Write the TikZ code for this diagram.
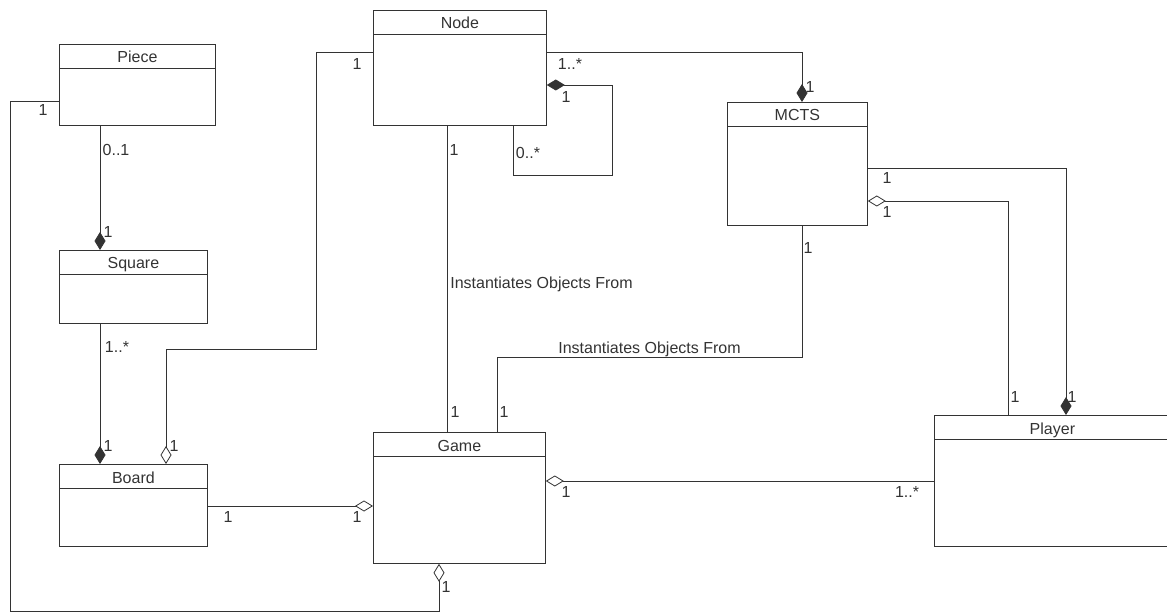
\documentclass[tikz,border=0pt]{standalone}
\usepackage{fontspec}
\setmainfont{Liberation Sans}
\usetikzlibrary{arrows.meta}

\begin{document}
\begin{tikzpicture}[x=1pt,y=-1pt,line width=0.8pt,color=black!80,
  umlbox/.style={draw,anchor=north west,inner sep=0pt},
  umltitle/.style={font=\fontsize{16}{18}\selectfont,anchor=base,inner sep=0pt},
  mult/.style={font=\fontsize{16}{18}\selectfont,inner sep=0pt},
  umlcomp/.style={-{Diamond[length=18pt,width=11pt]}},
  umlcompback/.style={{Diamond[length=18pt,width=11pt]}-},
  umlagg/.style={-{Diamond[open,length=18pt,width=11pt]}},
  umlaggback/.style={{Diamond[open,length=18pt,width=11pt]}-}]
\useasboundingbox (0,0) rectangle (1167,612);

% classes
\foreach \n/\t/\x/\y/\w/\h in {piece/Piece/59/44/156/81, square/Square/59/250/148/73,
    board/Board/59/464/148/82, node/Node/373/10/173/115, mcts/MCTS/727/102/140/123,
    game/Game/373/432/172/131, player/Player/934/415/236/131}
{
  \node[umlbox,minimum width=\w pt,minimum height=\h pt] (\n) at (\x,\y) {};
  \node[umltitle] (\n-title) at ([yshift=-19pt]\n.north) {\t};
  \draw ([yshift=-24pt]\n.north west) -- ([yshift=-24pt]\n.north east);
}

% connectors
\draw[umlagg] ([yshift=-16.5pt]piece.west) -| (10,611) -| ([xshift=66pt]game.south west);
\draw[umlcomp] ([xshift=41pt]piece.south west) -- ([xshift=41pt]square.north west);
\draw[umlcomp] ([xshift=41pt]square.south west) -- ([xshift=41pt]board.north west);
\draw[umlaggback] ([xshift=107pt]board.north west) |- (316,349) |- ([yshift=-42pt]node.north west);
\draw ([xshift=74pt]node.south west) -- node[pos=0.53,anchor=base west,xshift=3pt,inner sep=0pt,font=\fontsize{16}{18}\selectfont] (inst1) {Instantiates Objects From} ([xshift=74pt]game.north west);
\draw ([xshift=124pt]game.north west) |- node[pos=0.75,anchor=base,yshift=3.5pt,inner sep=0pt,font=\fontsize{16}{18}\selectfont] (inst2) {Instantiates Objects From} (802,357) -- ([xshift=75pt]mcts.south west);
\draw[umlcomp] ([yshift=-42pt]node.north east) -| ([xshift=75pt]mcts.north west);
\draw[umlcompback] ([yshift=-75pt]node.north east) -| (612,175) -| ([xshift=140pt]node.south west);
\draw[umlcomp] ([yshift=-66pt]mcts.north east) -| ([xshift=132pt]player.north west);
\draw[umlaggback] ([yshift=-99pt]mcts.north east) -| ([xshift=74pt]player.north west);
\draw[umlaggback] ([yshift=-49pt]game.north east) -- ([yshift=-66pt]player.north west);
\draw[umlagg] ([yshift=-42pt]board.north east) -- ([yshift=-74pt]game.north west);

% multiplicities
\node[mult] (m1) at (43,110) {1};
\node[mult] (m2) at (116,150) {0..1};
\node[mult] (m3) at (108,232) {1};
\node[mult] (m4) at (117,347) {1..*};
\node[mult] (m5) at (108,446) {1};
\node[mult] (m6) at (174,446) {1};
\node[mult] (m7) at (357,64) {1};
\node[mult] (m8) at (570,64) {1..*};
\node[mult] (m9) at (566,97) {1};
\node[mult] (m10) at (528,153) {0..*};
\node[mult] (m11) at (454,150) {1};
\node[mult] (m12) at (810,87) {1};
\node[mult] (m13) at (455,412) {1};
\node[mult] (m14) at (504,412) {1};
\node[mult] (m15) at (808,248) {1};
\node[mult] (m16) at (887,178) {1};
\node[mult] (m17) at (887,212) {1};
\node[mult] (m18) at (1015,397) {1};
\node[mult] (m19) at (1072,397) {1};
\node[mult] (m20) at (566,492) {1};
\node[mult] (m21) at (907,492) {1..*};
\node[mult] (m22) at (228,517) {1};
\node[mult] (m23) at (357,517) {1};
\node[mult] (m24) at (446,587) {1};
\end{tikzpicture}
\end{document}
